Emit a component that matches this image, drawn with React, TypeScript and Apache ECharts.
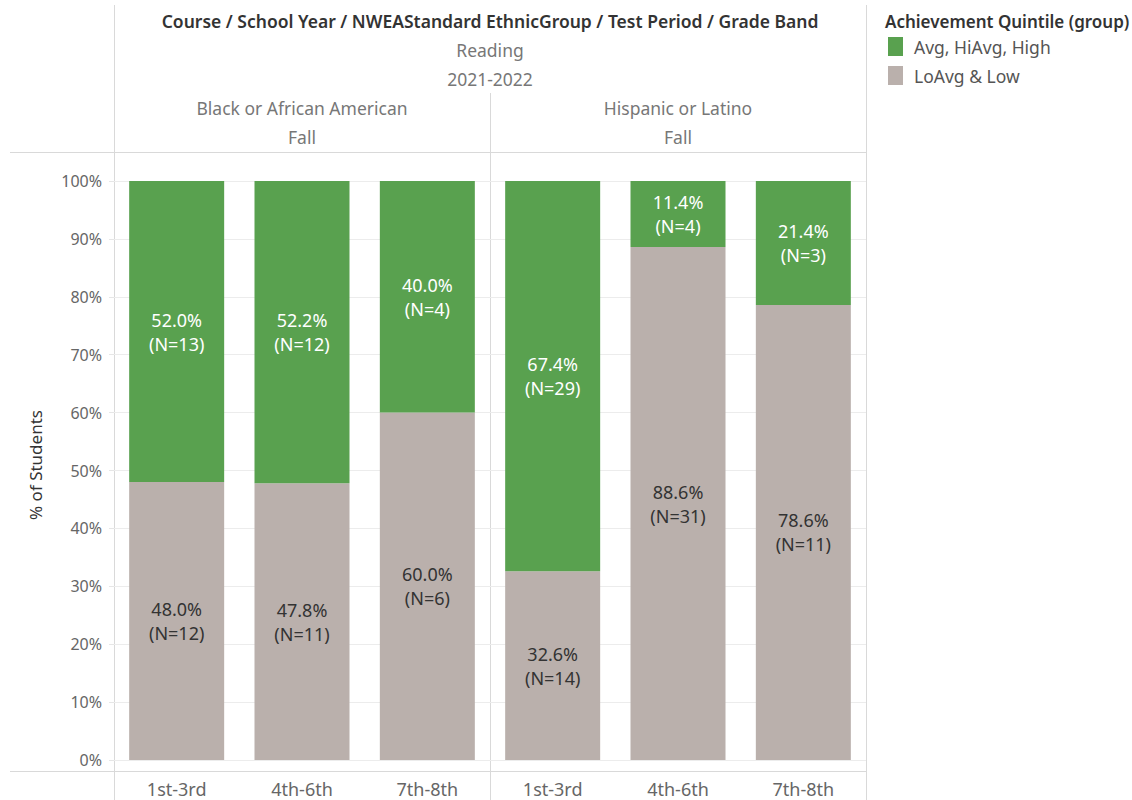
import React, { useEffect, useRef } from "react";
import * as echarts from "echarts";

const categories = ["1st-3rd", "4th-6th", "7th-8th"];
const panels = ["Black or African American", "Hispanic or Latino"];
const highPct = [
  [52.0, 52.2, 40.0],
  [67.4, 11.4, 21.4],
];
const highN = [
  [13, 12, 4],
  [29, 4, 3],
];
const lowPct = [
  [48.0, 47.8, 60.0],
  [32.6, 88.6, 78.6],
];
const lowN = [
  [12, 11, 6],
  [14, 31, 11],
];
const yTicks = [0, 10, 20, 30, 40, 50, 60, 70, 80, 90, 100];
const legendItems = ["Avg, HiAvg, High", "LoAvg & Low"];

const GREEN = "#59A14F";
const GRAY = "#BAB0AC";
const FONT = "'Noto Sans'";

export default function App() {
  const ref = useRef<HTMLDivElement>(null);
  useEffect(() => {
    document.body.style.margin = "0";
    const chart = echarts.init(ref.current!, null, { renderer: "svg" });
    const gridTop = 181;
    const gridH = 579;
    const grids = [
      { left: 114, top: gridTop, width: 376, height: gridH },
      { left: 490, top: gridTop, width: 376, height: gridH },
    ];
    const xAxes = grids.map((_, i) => ({
      type: "category",
      gridIndex: i,
      data: categories,
      axisLine: { show: false },
      axisTick: { show: false },
      axisLabel: {
        margin: 20,
        color: "#666",
        fontSize: 18,
        fontFamily: FONT,
      },
    }));
    const yAxes = grids.map((_, i) => ({
      type: "value",
      gridIndex: i,
      min: 0,
      max: 100,
      interval: 10,
      axisLine: { show: false },
      axisTick: {
        show: i === 0,
        length: 5,
        lineStyle: { color: "#e6e6e6" },
      },
      splitLine: { show: true, lineStyle: { color: "#ececec", width: 1 } },
      axisLabel: {
        show: i === 0,
        formatter: (v: number) => v + "%",
        color: "#666",
        fontSize: 16,
        fontFamily: FONT,
        margin: 12,
      },
    }));
    const series: any[] = [];
    panels.forEach((_, p) => {
      series.push({
        type: "bar",
        name: legendItems[1],
        xAxisIndex: p,
        yAxisIndex: p,
        stack: "s" + p,
        barWidth: 95,
        itemStyle: { color: GRAY },
        data: lowPct[p],
        label: {
          show: true,
          position: "inside",
          color: "#333",
          fontSize: 18,
          fontFamily: FONT,
          lineHeight: 24,
          formatter: (d: any) =>
            lowPct[p][d.dataIndex].toFixed(1) + "%\n(N=" + lowN[p][d.dataIndex] + ")",
        },
      });
      series.push({
        type: "bar",
        name: legendItems[0],
        xAxisIndex: p,
        yAxisIndex: p,
        stack: "s" + p,
        barWidth: 95,
        itemStyle: { color: GREEN },
        data: highPct[p],
        label: {
          show: true,
          position: "inside",
          color: "#fff",
          fontSize: 18,
          fontFamily: FONT,
          lineHeight: 24,
          formatter: (d: any) =>
            highPct[p][d.dataIndex].toFixed(1) + "%\n(N=" + highN[p][d.dataIndex] + ")",
        },
      });
    });
    const line = (x1: number, y1: number, x2: number, y2: number, c = "#d9d9d9") => ({
      type: "line",
      shape: { x1, y1, x2, y2 },
      style: { stroke: c, lineWidth: 1 },
      silent: true,
    });
    const text = (
      x: number,
      y: number,
      t: string,
      opts: any = {}
    ) => ({
      type: "text",
      x,
      y,
      style: {
        text: t,
        fill: opts.fill || "#777",
        font: `${opts.weight || "normal"} ${opts.size || 17.5}px ${FONT}`,
        textAlign: opts.align || "center",
        textVerticalAlign: "middle",
      },
      silent: true,
    });
    const graphics: any[] = [
      line(114.5, 5, 114.5, 800),
      line(490.5, 93, 490.5, 800),
      line(866.5, 5, 866.5, 800),
      line(10, 152.5, 866, 152.5),
      line(10, 771.5, 866, 771.5),
      text(490, 21, "Course / School Year / NWEAStandard EthnicGroup / Test Period / Grade Band", {
        fill: "#333",
        weight: "600",
      }),
      text(490, 50, "Reading"),
      text(490, 79, "2021-2022"),
      text(302, 108, panels[0]),
      text(302, 137, "Fall"),
      text(678, 108, panels[1]),
      text(678, 137, "Fall"),
      {
        type: "text",
        x: 35,
        y: 465,
        rotation: Math.PI / 2,
        style: {
          text: "% of Students",
          fill: "#333",
          font: `normal 17px ${FONT}`,
          textAlign: "center",
          textVerticalAlign: "middle",
        },
        silent: true,
      },
      text(885, 21, "Achievement Quintile (group)", { fill: "#333", weight: "600", align: "left", size: 17 }),
      {
        type: "rect",
        shape: { x: 888, y: 37, width: 15, height: 19 },
        style: { fill: GREEN },
      },
      text(914, 47, legendItems[0], { fill: "#555", align: "left" }),
      {
        type: "rect",
        shape: { x: 888, y: 66, width: 15, height: 19 },
        style: { fill: GRAY },
      },
      text(914, 76, legendItems[1], { fill: "#555", align: "left" }),
    ];
    chart.setOption({
      animation: false,
      grid: grids,
      xAxis: xAxes,
      yAxis: yAxes,
      series,
      graphic: graphics,
    });
    return () => chart.dispose();
  }, []);
  return <div ref={ref} style={{ width: 1132, height: 800 }} />;
}
